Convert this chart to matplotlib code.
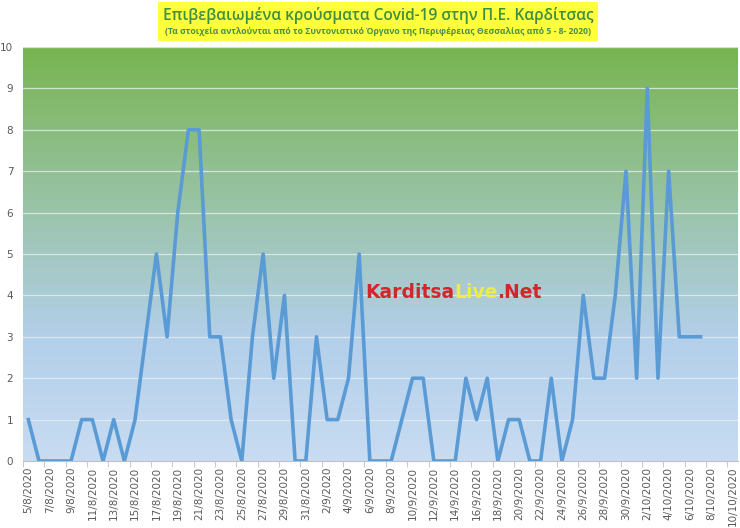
import numpy as np
import pandas as pd
import matplotlib
matplotlib.use("Agg")
import matplotlib.pyplot as plt
from matplotlib.colors import LinearSegmentedColormap
from matplotlib.patches import Rectangle

title = "Επιβεβαιωμένα κρούσματα Covid-19 στην Π.Ε. Καρδίτσας"
subtitle = "(Τα στοιχεία αντλούνται από το Συντονιστικό Όργανο της Περιφέρειας Θεσσαλίας από 5 - 8- 2020)"

dates = pd.date_range("2020-08-05", "2020-10-10", freq="D")
date_labels = [f"{d.day}/{d.month}/{d.year}" for d in dates]

# daily confirmed cases, 5/8 .. 7/10 (last three days empty)
cases = [1, 0, 0, 0, 0, 1, 1, 0, 1, 0,
         1, 3, 5, 3, 6, 8, 8, 3, 3, 1,
         0, 3, 5, 2, 4, 0, 0, 3, 1, 1,
         2, 5, 0, 0, 0, 1, 2, 2, 0, 0,
         0, 2, 1, 2, 0, 1, 1, 0, 0, 2,
         0, 1, 4, 2, 2, 4, 7, 2, 9, 2,
         7, 3, 3, 3]
values = np.full(len(dates), np.nan)
values[:len(cases)] = cases

fig = plt.figure(figsize=(7.4, 5.28), dpi=100)
ax = fig.add_axes([23 / 740, 1 - 461 / 528, 715 / 740, 414 / 528])

x = np.arange(len(dates))
ax.set_xlim(-0.5, len(dates) - 0.5)
ax.set_ylim(0, 10)

# gradient background
cmap = LinearSegmentedColormap.from_list(
    "bg", [(0.0, "#c8dcf2"), (0.3, "#b3cfea"), (0.55, "#9fc6b6"), (1.0, "#78b450")])
grad = np.linspace(0, 1, 256).reshape(-1, 1)
ax.imshow(grad, aspect="auto", cmap=cmap, origin="lower",
          extent=[-0.5, len(dates) - 0.5, 0, 10], zorder=0)

for yv in range(1, 11):
    ax.axhline(yv, color="#e8eef0", lw=0.9, alpha=0.8, zorder=1)

ax.plot(x, values, color="#5b9bd5", lw=2.6, zorder=3, solid_joinstyle="round")

for s in ["top", "right", "left"]:
    ax.spines[s].set_visible(False)
ax.spines["bottom"].set_color("#c0c0c0")

ax.set_yticks(range(0, 11))
ax.tick_params(axis="y", length=0, pad=7, labelsize=7.5, labelcolor="#595959")
ax.set_xticks(x[::2])
ax.set_xticklabels(date_labels[::2], rotation=90, fontsize=7.5, color="#595959")
ax.set_xticks(np.arange(-0.5, len(dates), 2), minor=True)
ax.tick_params(axis="x", which="major", length=0, pad=4)
ax.tick_params(axis="x", which="minor", length=4, color="#c0c0c0")

# title box
fig.patches.append(Rectangle((158 / 740, 1 - 41 / 528), 440 / 740, 39 / 528,
                             transform=fig.transFigure, facecolor="#ffff3c",
                             edgecolor="none", zorder=0))
fig.text(378 / 740, 1 - 16 / 528, title, ha="center", va="center",
         fontsize=11.2, color="#3f8f3f", family="Open Sans", weight="semibold")
fig.text(378 / 740, 1 - 32 / 528, subtitle, ha="center", va="center",
         fontsize=6.2, color="#4a8f4a", family="Open Sans", weight="bold")

# watermark
fig.canvas.draw()
renderer = fig.canvas.get_renderer()
xpos = 365
for part, col in [("Karditsa", "#d0282a"), ("Live", "#eeee40"), (".Net", "#d0282a")]:
    t = fig.text(xpos / 740, 1 - 292 / 528, part, ha="left", va="center",
                 fontsize=13.5, weight="bold", color=col, family="DejaVu Sans")
    bb = t.get_window_extent(renderer)
    xpos += bb.width

fig.savefig("out.png", dpi=100)
